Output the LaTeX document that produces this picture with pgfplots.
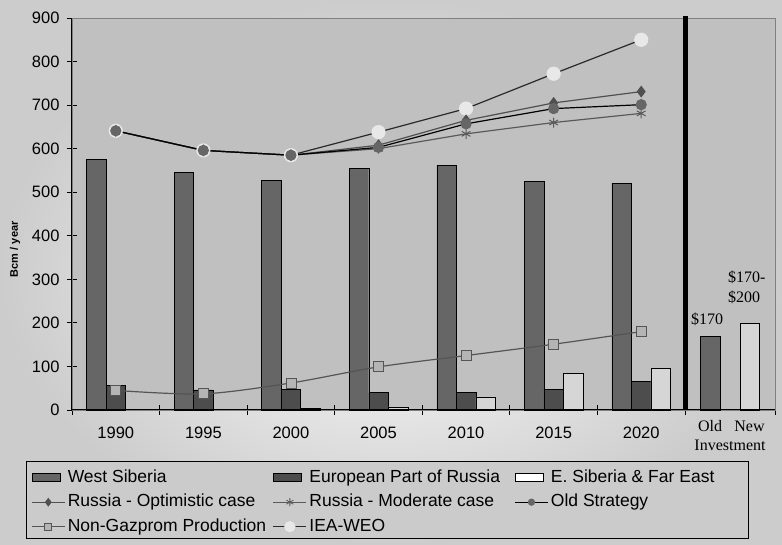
\documentclass[border=0pt]{standalone}
\usepackage{pgfplots}
\pgfplotsset{compat=1.18}
\usepackage{fontspec}
\setmainfont{Liberation Sans}
\newfontfamily\timesfont{Liberation Serif}
\definecolor{plotbg}{HTML}{C0C0C0}
\definecolor{legbg}{HTML}{CBCBCB}
\definecolor{wsib}{HTML}{666666}
\definecolor{eur}{HTML}{4D4D4D}
\definecolor{esib}{HTML}{D6D6D6}
\definecolor{optc}{HTML}{505050}
\definecolor{modc}{HTML}{5A5A5A}
\definecolor{oldc}{HTML}{666666}
\definecolor{ngc}{HTML}{555555}
\definecolor{ngfill}{HTML}{B4B4B4}
\definecolor{ieafill}{HTML}{E8E8E8}
\definecolor{iealine}{HTML}{2A2A2A}
\newcommand{\lA}[1]{\makebox[203pt][l]{#1}}
\begin{document}
\begin{tikzpicture}[x=1pt,y=1pt]
\useasboundingbox (0,0) rectangle (782,545);
\shade[inner color=white, outer color=gray!40] (0,0) rectangle (782,545);
\draw[black, fill=legbg, line width=0.8pt] (26,7) rectangle (748,84);
\begin{axis}[
  at={(72pt,135pt)}, anchor=south west, scale only axis,
  width=613pt, height=392pt,
  xmin=-0.5, xmax=6.5, ymin=0, ymax=900, clip=false,
  axis background/.style={fill=plotbg},
  axis line style={draw=gray},
  ytick={0,100,...,900},
  xtick={0,...,6},
  xticklabels={1990,1995,2000,2005,2010,2015,2020},
  minor xtick={-0.5,0.5,...,6.5},
  xtick pos=bottom, ytick pos=left,
  tick align=center,
  major tick length=10pt, minor tick length=10pt,
  tick style={black, line width=0.8pt},
  major x tick style={draw=none},
  /pgf/number format/assume math mode=true,
  tick label style={font=\fontsize{16.5}{18}\selectfont},
  xticklabel style={yshift=-8pt},
  yticklabel style={xshift=-4pt},
  ylabel={Bcm / year},
  ylabel style={at={(axis description cs:-0.093,0.41)}, rotate=0, anchor=center, font=\bfseries\fontsize{11}{12}\selectfont},
  legend columns=3,
  legend cell align=left,
  legend image code/.code={\draw[mark repeat=2, mark phase=2, #1] plot coordinates {(0pt,0pt) (16.5pt,0pt) (33pt,0pt)}; \path[draw=none, fill=none] (0pt,-1pt) rectangle (34pt,1pt);},
  legend style={at={(axis description cs:-0.0669,-0.1454)}, anchor=north west,
    draw=none, fill=none, inner sep=0pt, row sep=3.5pt, column sep=0pt,
    font=\fontsize{17.5}{20}\selectfont,
    nodes={inner sep=2pt, text height=13pt, text depth=4pt}},
]
% bars
\addplot[ybar, bar width=19.5pt, bar shift=-19.5pt, fill=wsib, draw=black, forget plot] coordinates {
(0,576) (1,546) (2,527) (3,555) (4,562) (5,525) (6,521)};
\addplot[ybar, bar width=19.5pt, bar shift=0pt, fill=eur, draw=black, forget plot] coordinates {
(0,57) (1,46) (2,47) (3,40) (4,40) (5,48) (6,66)};
\addplot[ybar, bar width=19.5pt, bar shift=19.5pt, fill=esib, draw=black, forget plot] coordinates {
(2,5) (3,7) (4,30) (5,85) (6,95)};
% lines
\addplot[iealine, line width=1.2pt, mark=*, mark size=6.5pt, mark options={fill=ieafill, draw=ieafill}, forget plot] coordinates {
(0,641) (1,596) (2,585) (3,638) (4,692) (5,772) (6,850)};
\addplot[modc, line width=1.2pt, mark=asterisk, mark size=5pt, mark options={draw=modc, line width=1pt}, forget plot] coordinates {
(0,641) (1,596) (2,585) (3,600) (4,634) (5,660) (6,681)};
\addplot[optc, line width=1.2pt, mark=diamond*, mark size=5pt, mark options={fill=optc, draw=optc}, forget plot] coordinates {
(0,641) (1,596) (2,585) (3,608) (4,665) (5,705) (6,731)};
\addplot[black, line width=1.2pt, mark=*, mark size=5pt, mark options={fill=oldc, draw=oldc}, forget plot] coordinates {
(0,641) (1,596) (2,585) (3,603) (4,657) (5,692) (6,701)};
\addplot[ngc, line width=1.2pt, smooth, mark=square*, mark size=5pt, mark options={fill=ngfill, draw=ngc, line width=0.8pt}, forget plot] coordinates {
(0,45) (1,37) (2,62) (3,99) (4,125) (5,151) (6,180)};
\draw[black, line width=1pt] (rel axis cs:0,0) -- (rel axis cs:0,1);
\draw[black, line width=1pt] (rel axis cs:0,0) -- (rel axis cs:1,0);
% legend
\addlegendimage{legend image code/.code={\draw[black, fill=wsib] (0pt,-4pt) rectangle (28pt,4pt); \path[draw=none, fill=none] (0pt,-1pt) rectangle (34pt,1pt);}}
\addlegendentry{\lA{West Siberia}}
\addlegendimage{legend image code/.code={\draw[black, fill=eur] (0pt,-4pt) rectangle (28pt,4pt); \path[draw=none, fill=none] (0pt,-1pt) rectangle (34pt,1pt);}}
\addlegendentry{\lA{European Part of Russia}}
\addlegendimage{legend image code/.code={\draw[black, fill=white] (0pt,-4pt) rectangle (28pt,4pt); \path[draw=none, fill=none] (0pt,-1pt) rectangle (34pt,1pt);}}
\addlegendentry{E. Siberia \& Far East}
\addlegendimage{optc, line width=1.2pt, mark=diamond*, mark size=3.5pt, mark options={fill=optc, draw=optc}}
\addlegendentry{\lA{Russia - Optimistic case}}
\addlegendimage{modc, line width=1.2pt, mark=asterisk, mark size=4pt, mark options={draw=modc, line width=0.8pt}}
\addlegendentry{\lA{Russia - Moderate case}}
\addlegendimage{black, line width=1.2pt, mark=*, mark size=3pt, mark options={fill=oldc, draw=oldc}}
\addlegendentry{Old Strategy}
\addlegendimage{ngc, line width=1.2pt, mark=square*, mark size=3.5pt, mark options={fill=ngfill, draw=ngc, line width=0.6pt}}
\addlegendentry{\lA{Non-Gazprom Production}}
\addlegendimage{iealine, line width=1.2pt, mark=*, mark size=5pt, mark options={fill=ieafill, draw=ieafill}}
\addlegendentry{\lA{IEA-WEO}}
\end{axis}
\begin{axis}[
  at={(685pt,135pt)}, anchor=south west, scale only axis,
  width=90pt, height=392pt,
  xmin=-0.633, xmax=1.646, ymin=0, ymax=900, clip=false,
  axis background/.style={fill=plotbg},
  axis line style={draw=gray},
  ytick=\empty,
  xtick={0,1}, xticklabels={Old,New},
  minor xtick={-0.633,1.646},
  xtick pos=bottom,
  tick align=center,
  major tick length=10pt, minor tick length=10pt,
  tick style={black, line width=0.8pt},
  major x tick style={draw=none},
  xticklabel style={font=\timesfont\fontsize{16}{18}\selectfont, yshift=-2pt},
]
\addplot[ybar, bar width=19.5pt, bar shift=0pt, fill=wsib, draw=black] coordinates {(0,170)};
\addplot[ybar, bar width=19.5pt, bar shift=0pt, fill=esib, draw=black] coordinates {(1,200)};
\draw[black, line width=1pt] (rel axis cs:0,0) -- (rel axis cs:1,0);
\draw[black, line width=5pt] (rel axis cs:0,0) -- (rel axis cs:0,1.004);
\node[font=\timesfont\fontsize{16}{18}\selectfont, anchor=south, inner sep=0pt] at (axis cs:0,170) [yshift=10pt, xshift=-3pt] {\$170};
\node[font=\timesfont\fontsize{16}{20}\selectfont, anchor=south west, align=left, inner sep=0pt] at (axis cs:1,200) [xshift=-21.5pt, yshift=19pt] {\$170-\\\$200};
\node[font=\timesfont\fontsize{16}{18}\selectfont, anchor=north, inner sep=0pt] at (rel axis cs:0.5,0) [yshift=-30pt] {Investment};
\end{axis}
\end{tikzpicture}
\end{document}
